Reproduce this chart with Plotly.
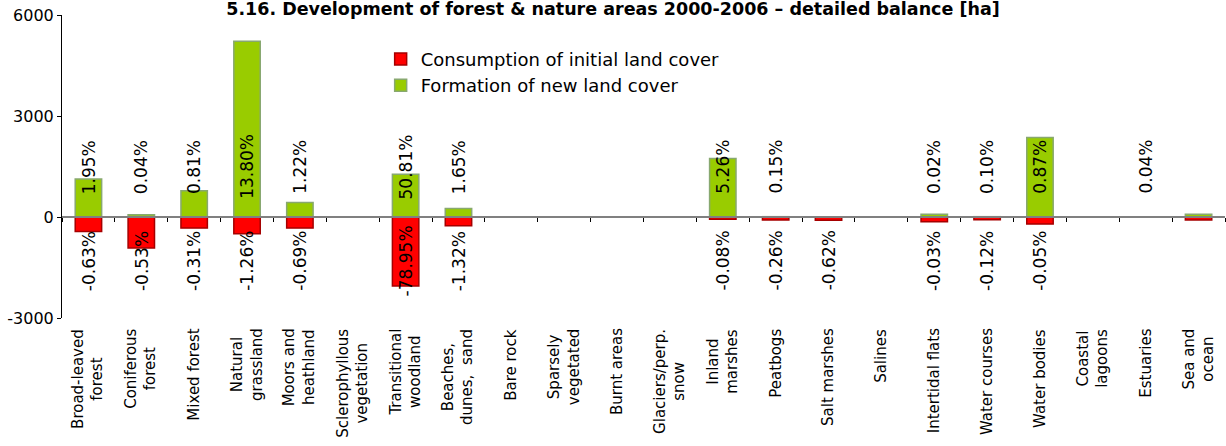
import plotly.graph_objects as go

# ----------------- DATA ----------------- #
categories = [
    "Broad-leaved<br>forest", "Coniferous<br>forest", "Mixed forest", "Natural<br>grassland",
    "Moors and<br>heathland", "Sclerophyllous<br>vegetation", "Transitional<br>woodland",
    "Beaches,<br>dunes,  sand", "Bare rock", "Sparsely<br>vegetated", "Burnt areas",
    "Glaciers/perp.<br>snow", "Inland<br>marshes", "Peatbogs", "Salt marshes", "Salines",
    "Intertidal flats", "Water courses", "Water bodies", "Coastal<br>lagoons", "Estuaries",
    "Sea and<br>ocean",
]

consumption = [-430, -920, -330, -500, -330, 0, -2050, -260, 0, 0, 0, 0,
               -70, -90, -100, 0, -140, -80, -210, 0, 0, -90]
formation = [1130, 70, 780, 5220, 430, 0, 1270, 250, 0, 0, 0, 0,
             1740, 10, 0, 0, 80, 10, 2360, 0, 5, 80]

consumption_pct = ["-0.63%", "-0.53%", "-0.31%", "-1.26%", "-0.69%", "", "-78.95%", "-1.32%", "", "", "", "",
                   "-0.08%", "-0.26%", "-0.62%", "", "-0.03%", "-0.12%", "-0.05%", "", "", ""]
formation_pct = ["1.95%", "0.04%", "0.81%", "13.80%", "1.22%", "", "50.81%", "1.65%", "", "", "", "",
                 "5.26%", "0.15%", "", "", "0.02%", "0.10%", "0.87%", "", "0.04%", ""]

y_ticks = [-3000, 0, 3000, 6000]
y_ticktext = ["-3000", "0", "3000", "6000"]

FONT = "DejaVu Sans"

# ----------------- FIGURE ----------------- #
fig = go.Figure()
fig.add_trace(go.Bar(
    x=categories, y=consumption, name="Consumption of initial land cover",
    marker=dict(color="#FF0000", line=dict(color="#A50000", width=1.5)), width=0.5,
))
fig.add_trace(go.Bar(
    x=categories, y=formation, name="Formation of new land cover",
    marker=dict(color="#99CC00", line=dict(color="#88A870", width=1.5)), width=0.5,
))

annotations = []
# percentage labels (fixed height, rotated)
for cat, txt in zip(categories, formation_pct):
    if txt:
        annotations.append(dict(x=cat, y=1490, xref="x", yref="y", text=txt, textangle=-90,
                                showarrow=False, yanchor="middle", font=dict(family=FONT, size=17, color="black")))
for cat, txt in zip(categories, consumption_pct):
    if txt:
        annotations.append(dict(x=cat, y=-1300, xref="x", yref="y", text=txt, textangle=-90,
                                showarrow=False, yanchor="middle", font=dict(family=FONT, size=17, color="black")))
# category labels below the plot
for cat in categories:
    annotations.append(dict(x=cat, y=-0.028, xref="x", yref="paper", text=cat, textangle=-90,
                            showarrow=False, yanchor="top", align="center",
                            font=dict(family=FONT, size=15, color="black")))

fig.update_layout(
    width=1226, height=446,
    margin=dict(l=62, r=1, t=15, b=128),
    paper_bgcolor="white", plot_bgcolor="white",
    barmode="relative",
    font=dict(family=FONT, size=16, color="black"),
    title=dict(text="<b>5.16. Development of forest & nature areas 2000-2006 – detailed balance [ha]</b>",
               x=0.5, xref="container", xanchor="center", y=0.993, yref="container", yanchor="top",
               pad=dict(t=0, b=0), font=dict(family=FONT, size=17.5, color="black")),
    legend=dict(x=0.274, y=0.915, xanchor="left", yanchor="top", bgcolor="rgba(0,0,0,0)",
                font=dict(family=FONT, size=18, color="black"), traceorder="normal"),
    annotations=annotations,
)
fig.update_xaxes(
    type="category", categoryorder="array", categoryarray=categories, range=[-0.5, 21.5],
    anchor="free", position=1 / 3, automargin=False,
    showline=True, linecolor="#808080", linewidth=2,
    ticks="outside", tickson="boundaries", ticklen=4, tickcolor="black",
    showticklabels=False, showgrid=False, zeroline=False,
)
fig.update_yaxes(
    range=[-3000, 6000], tickvals=y_ticks, ticktext=y_ticktext, automargin=False,
    showline=True, linecolor="black", linewidth=1,
    ticks="outside", ticklen=4, tickcolor="black",
    showgrid=False, zeroline=False, tickfont=dict(family=FONT, size=16, color="black"),
)

fig.write_html("out.html", config={"displayModeBar": False},
               post_script="document.body.style.margin='0';")
